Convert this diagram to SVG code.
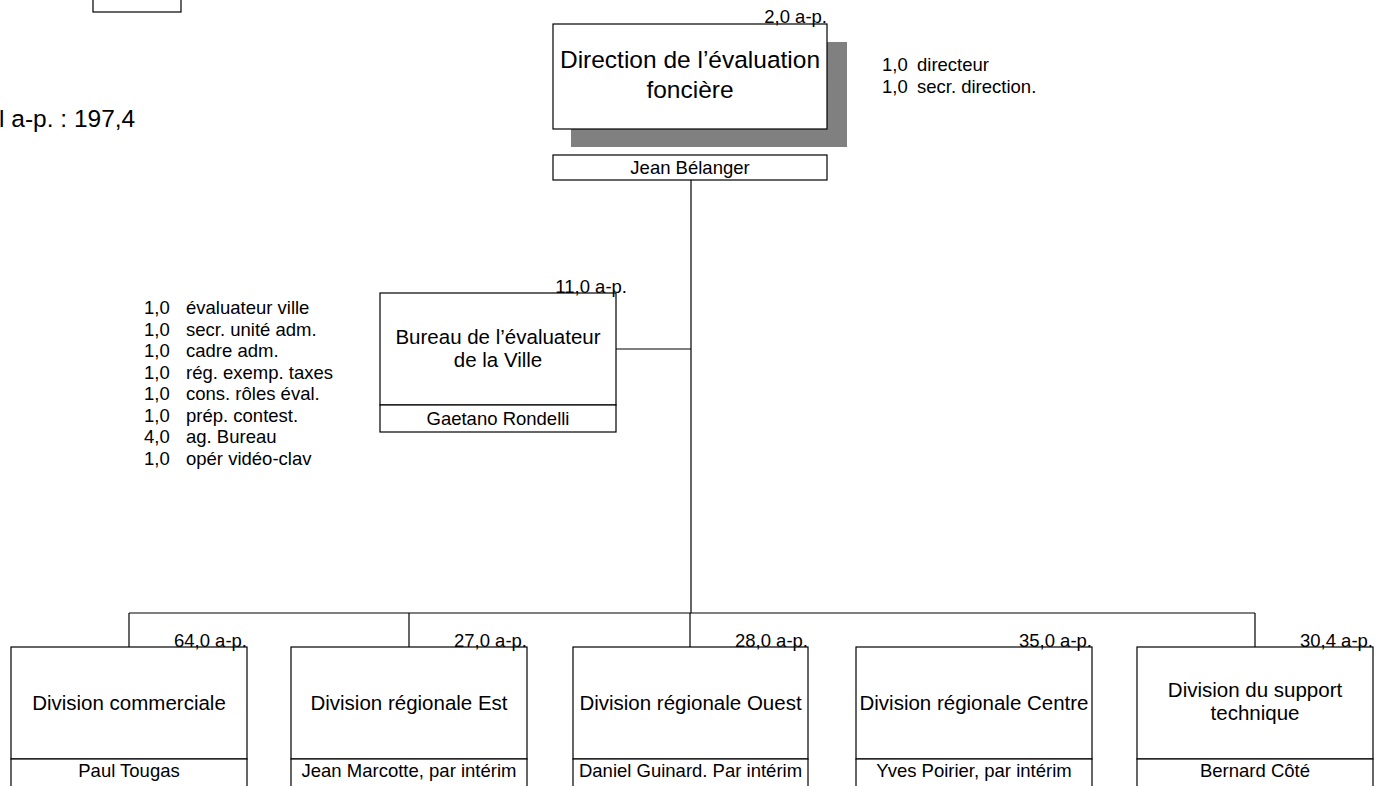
<svg xmlns="http://www.w3.org/2000/svg" width="1386" height="786" viewBox="0 0 1386 786">
<style>
  .box { fill: #ffffff; stroke: #000000; stroke-width: 1.2; }
  .line { fill: none; stroke: #000000; stroke-width: 1.2; }
  text { font-family: "Liberation Sans", Arial, sans-serif; fill: #000000; }
  .title { font-size: 24.5px; text-anchor: middle; }
  .unit { font-size: 20.5px; text-anchor: middle; }
  .name { font-size: 18.5px; text-anchor: middle; }
  .ap { font-size: 18.5px; text-anchor: end; }
  .lst { font-size: 18.5px; }
  .total { font-size: 24.5px; }
</style>
<rect width="1386" height="786" fill="#ffffff"/>

<g id="legend-box">
  <rect class="box" x="93" y="-10" width="88" height="22"/>
</g>
<g id="total">
  <text class="total" x="-1" y="127">l a-p. : 197,4</text>
</g>

<g id="connectors">
  <line class="line" x1="691" y1="180" x2="691" y2="613"/>
  <line class="line" x1="616" y1="349" x2="691" y2="349"/>
  <line class="line" x1="129" y1="613" x2="1255" y2="613"/>
  <line class="line" x1="129" y1="613" x2="129" y2="647"/>
  <line class="line" x1="409" y1="613" x2="409" y2="647"/>
  <line class="line" x1="690" y1="613" x2="690" y2="647"/>
  <line class="line" x1="1255" y1="613" x2="1255" y2="647"/>
</g>

<g id="direction">
  <rect x="571" y="42" width="276" height="105" fill="#808080"/>
  <rect class="box" x="553" y="24" width="274" height="105"/>
  <text class="title" x="690" y="68">Direction de l’évaluation</text>
  <text class="title" x="690" y="98">foncière</text>
  <text class="ap" x="827" y="23">2,0 a-p.</text>
  <rect class="box" x="553" y="155" width="274" height="25"/>
  <text class="name" x="690" y="174">Jean Bélanger</text>
</g>
<g id="direction-staff">
  <text class="lst" x="882" y="71">1,0</text>
  <text class="lst" x="917" y="71">directeur</text>
  <text class="lst" x="882" y="93">1,0</text>
  <text class="lst" x="917" y="93">secr. direction.</text>
</g>

<g id="bureau">
  <rect class="box" x="380" y="293" width="236" height="112"/>
  <rect class="box" x="380" y="405" width="236" height="27"/>
  <text class="unit" x="498" y="344">Bureau de l’évaluateur</text>
  <text class="unit" x="498" y="367">de la Ville</text>
  <text class="ap" x="627" y="293">11,0 a-p.</text>
  <text class="name" x="498" y="425">Gaetano Rondelli</text>
</g>
<g id="bureau-staff">
  <text class="lst" x="144" y="314">1,0</text><text class="lst" x="186" y="314">évaluateur ville</text>
  <text class="lst" x="144" y="335.5">1,0</text><text class="lst" x="186" y="335.5">secr. unité adm.</text>
  <text class="lst" x="144" y="357">1,0</text><text class="lst" x="186" y="357">cadre adm.</text>
  <text class="lst" x="144" y="378.5">1,0</text><text class="lst" x="186" y="378.5">rég. exemp. taxes</text>
  <text class="lst" x="144" y="400">1,0</text><text class="lst" x="186" y="400">cons. rôles éval.</text>
  <text class="lst" x="144" y="421.5">1,0</text><text class="lst" x="186" y="421.5">prép. contest.</text>
  <text class="lst" x="144" y="443">4,0</text><text class="lst" x="186" y="443">ag. Bureau</text>
  <text class="lst" x="144" y="464.5">1,0</text><text class="lst" x="186" y="464.5">opér vidéo-clav</text>
</g>

<g id="div-commerciale">
  <rect class="box" x="11" y="647" width="236" height="112"/>
  <rect class="box" x="11" y="759" width="236" height="40"/>
  <text class="ap" x="247" y="647">64,0 a-p.</text>
  <text class="unit" x="129" y="710">Division commerciale</text>
  <text class="name" x="129" y="777">Paul Tougas</text>
</g>
<g id="div-est">
  <rect class="box" x="291" y="647" width="236" height="112"/>
  <rect class="box" x="291" y="759" width="236" height="40"/>
  <text class="ap" x="527" y="647">27,0 a-p.</text>
  <text class="unit" x="409" y="710">Division régionale Est</text>
  <text class="name" x="409" y="777">Jean Marcotte, par intérim</text>
</g>
<g id="div-ouest">
  <rect class="box" x="573" y="647" width="235" height="112"/>
  <rect class="box" x="573" y="759" width="235" height="40"/>
  <text class="ap" x="808" y="647">28,0 a-p.</text>
  <text class="unit" x="690.5" y="710">Division régionale Ouest</text>
  <text class="name" x="690.5" y="777">Daniel Guinard. Par intérim</text>
</g>
<g id="div-centre">
  <rect class="box" x="856" y="647" width="236" height="112"/>
  <rect class="box" x="856" y="759" width="236" height="40"/>
  <text class="ap" x="1092" y="647">35,0 a-p.</text>
  <text class="unit" x="974" y="710">Division régionale Centre</text>
  <text class="name" x="974" y="777">Yves Poirier, par intérim</text>
</g>
<g id="div-support">
  <rect class="box" x="1137" y="647" width="236" height="112"/>
  <rect class="box" x="1137" y="759" width="236" height="40"/>
  <text class="ap" x="1373" y="647">30,4 a-p.</text>
  <text class="unit" x="1255" y="697">Division du support</text>
  <text class="unit" x="1255" y="720">technique</text>
  <text class="name" x="1255" y="777">Bernard Côté</text>
</g>
</svg>
